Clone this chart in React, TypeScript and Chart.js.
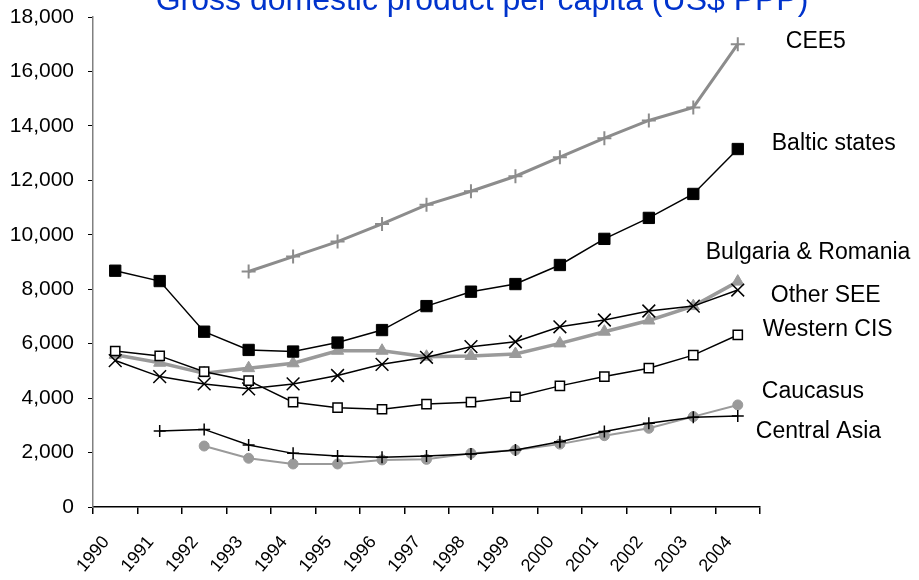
import React, { useEffect, useRef } from "react";
import { Chart, registerables } from "chart.js";

Chart.register(...registerables);

const years = ["1990","1991","1992","1993","1994","1995","1996","1997","1998","1999","2000","2001","2002","2003","2004"];

const cee5 = [null, null, null, 8650, 9200, 9750, 10400, 11100, 11600, 12150, 12850, 13550, 14200, 14680, 17000];
const baltic = [8680, 8300, 6440, 5770, 5710, 6040, 6500, 7380, 7910, 8190, 8890, 9850, 10620, 11500, 13150];
const bulgariaRomania = [5590, 5300, 4910, 5100, 5280, 5740, 5740, 5520, 5550, 5620, 6010, 6440, 6850, 7380, 8280];
const otherSEE = [5380, 4790, 4520, 4340, 4520, 4830, 5240, 5500, 5890, 6070, 6620, 6870, 7200, 7380, 7970];
const westernCIS = [5730, 5550, 4970, 4640, 3850, 3650, 3590, 3780, 3850, 4050, 4450, 4790, 5100, 5580, 6320];
const caucasus = [null, null, 2240, 1790, 1580, 1580, 1730, 1750, 1970, 2090, 2310, 2620, 2890, 3320, 3750];
const centralAsia = [null, 2790, 2850, 2280, 1970, 1870, 1830, 1870, 1950, 2090, 2400, 2770, 3080, 3300, 3340];

const yTicks = [0, 2000, 4000, 6000, 8000, 10000, 12000, 14000, 16000, 18000];

const title = "Gross domestic product per capita (US$ PPP)";

const FONT = "'Liberation Sans', Arial, Helvetica, sans-serif";

// label placement relative to each series' last point (pixels)
const labelOffsets: Record<string, [number, number]> = {
  "CEE5": [48, -3],
  "Baltic states": [34, -5],
  "Bulgaria & Romania": [-32, -29],
  "Other SEE": [33, 6],
  "Western CIS": [25, -5],
  "Caucasus": [24, -13],
  "Central Asia": [18, 16],
};

const endLabelPlugin = {
  id: "endLabels",
  afterDatasetsDraw(chart: any) {
    const ctx = chart.ctx;
    ctx.save();
    ctx.font = `23px ${FONT}`;
    ctx.fillStyle = "#000";
    ctx.textAlign = "left";
    ctx.textBaseline = "middle";
    chart.data.datasets.forEach((ds: any, i: number) => {
      const meta = chart.getDatasetMeta(i);
      const pts = meta.data;
      const last = pts[pts.length - 1];
      const off = labelOffsets[ds.label] || [20, 0];
      ctx.fillText(ds.label, last.x + off[0], last.y + off[1]);
    });
    ctx.restore();
  },
};

const titlePlugin = {
  id: "topTitle",
  afterDraw(chart: any) {
    const ctx = chart.ctx;
    ctx.save();
    ctx.font = `32px ${FONT}`;
    ctx.fillStyle = "#0033CC";
    ctx.textAlign = "center";
    ctx.textBaseline = "alphabetic";
    ctx.fillText(title, 482, 10);
    ctx.restore();
  },
};

export default function App() {
  const ref = useRef<HTMLCanvasElement>(null);
  useEffect(() => {
    if (!ref.current) return;
    const black = "#000000";
    const gray = "#8c8c8c";
    const lightGray = "#9a9a9a";
    const chart = new Chart(ref.current, {
      type: "line",
      data: {
        labels: years,
        datasets: [
          {
            label: "Central Asia",
            data: centralAsia,
            borderColor: black,
            borderWidth: 1.5,
            pointStyle: "cross",
            pointRadius: 6,
            pointBorderWidth: 1.5,
            pointBorderColor: black,
            pointBackgroundColor: black,
          },
          {
            label: "Western CIS",
            data: westernCIS,
            borderColor: black,
            borderWidth: 1.5,
            pointStyle: "rect",
            pointRadius: 6.5,
            pointBorderWidth: 1.5,
            pointBorderColor: black,
            pointBackgroundColor: "#ffffff",
          },
          {
            label: "Other SEE",
            data: otherSEE,
            borderColor: black,
            borderWidth: 1.5,
            pointStyle: "crossRot",
            pointRadius: 9,
            pointBorderWidth: 1.5,
            pointBorderColor: black,
            pointBackgroundColor: black,
          },
          {
            label: "Baltic states",
            data: baltic,
            borderColor: black,
            borderWidth: 1.5,
            pointStyle: "rect",
            pointRadius: 8,
            pointBorderWidth: 1,
            pointBorderColor: black,
            pointBackgroundColor: black,
          },
          {
            label: "Bulgaria & Romania",
            data: bulgariaRomania,
            borderColor: lightGray,
            borderWidth: 3.5,
            pointStyle: "triangle",
            pointRadius: 7,
            pointBorderWidth: 1,
            pointBorderColor: lightGray,
            pointBackgroundColor: lightGray,
          },
          {
            label: "Caucasus",
            data: caucasus,
            borderColor: lightGray,
            borderWidth: 2,
            pointStyle: "circle",
            pointRadius: 5,
            pointBorderWidth: 1,
            pointBorderColor: lightGray,
            pointBackgroundColor: lightGray,
          },
          {
            label: "CEE5",
            data: cee5,
            borderColor: gray,
            borderWidth: 3,
            pointStyle: "cross",
            pointRadius: 7,
            pointBorderWidth: 2,
            pointBorderColor: gray,
            pointBackgroundColor: gray,
          },
        ],
      },
      options: {
        animation: false,
        responsive: false,
        maintainAspectRatio: false,
        layout: { padding: { top: 17, right: 159, left: 0, bottom: 0 } },
        plugins: {
          legend: { display: false },
          tooltip: { enabled: false },
          title: { display: false },
        },
        elements: { line: { tension: 0 } },
        scales: {
          x: {
            type: "category",
            offset: true,
            grid: {
              offset: true,
              drawOnChartArea: false,
              drawTicks: true,
              tickLength: 7,
              color: "#000",
              lineWidth: 1.5,
            },
            border: { display: true, color: "#000", width: 1.5 },
            ticks: {
              color: "#000",
              font: { family: FONT, size: 18 },
              maxRotation: 50,
              minRotation: 50,
              padding: 18,
              labelOffset: -9,
              autoSkip: false,
            },
            afterFit(scale: any) {
              scale.height = 73;
              scale.paddingLeft = 0;
              scale.paddingRight = 0;
            },
          },
          y: {
            min: 0,
            max: 18000,
            afterBuildTicks(scale: any) {
              scale.ticks = yTicks.map((v) => ({ value: v }));
            },
            grid: {
              drawOnChartArea: false,
              drawTicks: true,
              tickLength: 5,
              color: "#000",
              lineWidth: 1,
            },
            border: { display: true, color: "#808080", width: 1.5 },
            ticks: {
              color: "#000",
              font: { family: FONT, size: 21 },
              padding: 14,
              callback: (v: any) => Number(v).toLocaleString("en-US"),
            },
            afterFit(scale: any) {
              scale.width = 93;
              scale.paddingTop = 0;
              scale.paddingBottom = 0;
            },
          },
        },
      },
      plugins: [endLabelPlugin, titlePlugin],
    });
    return () => chart.destroy();
  }, []);
  return (
    <div style={{ position: "fixed", left: 0, top: 0, width: 919, height: 580, background: "#fff" }}>
      <canvas ref={ref} width={919} height={580} style={{ width: 919, height: 580, display: "block" }} />
    </div>
  );
}
